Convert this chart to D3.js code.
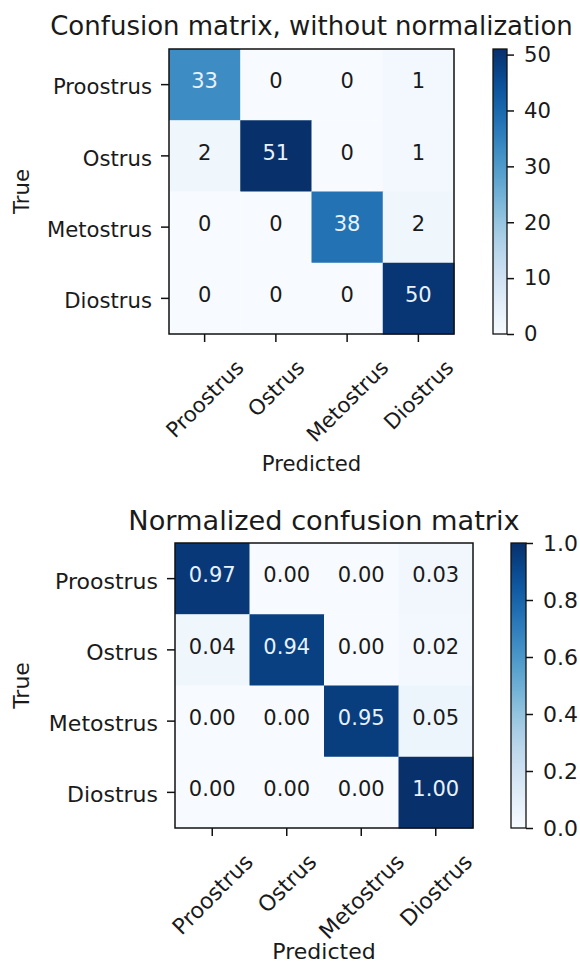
<!DOCTYPE html>
<html>
<head>
<meta charset="utf-8">
<script src="https://cdn.jsdelivr.net/npm/d3@7"></script>
<style>
  body { margin: 0; background: #fff; }
  svg { display: block; font-family: "DejaVu Sans", sans-serif; }
</style>
</head>
<body>
<svg width="580" height="965"></svg>
<script>
const classes = ["Proostrus", "Ostrus", "Metostrus", "Diostrus"];

// rows = true class, columns = predicted class
const countRows = [
  [33, 0, 0, 1],
  [2, 51, 0, 1],
  [0, 0, 38, 2],
  [0, 0, 0, 50]
];
const normRows = [
  [0.97, 0.0, 0.0, 0.03],
  [0.04, 0.94, 0.0, 0.02],
  [0.0, 0.0, 0.95, 0.05],
  [0.0, 0.0, 0.0, 1.0]
];
const countTicks = [0, 10, 20, 30, 40, 50];
const normTicks = [0, 0.2, 0.4, 0.6, 0.8, 1.0];

const svg = d3.select("svg");

const panels = [
  {
    title: "Confusion matrix, without normalization",
    rows: countRows, ticks: countTicks,
    fmt: d3.format("d"), tickFmt: d3.format("d"),
    box: { x0: 169, x1: 454, y0: 49, y1: 334 },
    bar: { x0: 493, x1: 507 },
    titleY: 35, titleSize: 26, tickSize: 21.2, valueSize: 21,
    xlabelY: 471
  },
  {
    title: "Normalized confusion matrix",
    rows: normRows, ticks: normTicks,
    fmt: d3.format(".2f"), tickFmt: d3.format(".1f"),
    box: { x0: 175, x1: 473, y0: 543, y1: 828 },
    bar: { x0: 511, x1: 526 },
    titleY: 530, titleSize: 27.2, tickSize: 22, valueSize: 21,
    xlabelY: 959
  }
];

panels.forEach((p, pi) => {
  const g = svg.append("g");
  const b = p.box;
  const vmax = d3.max(p.rows.flat());

  const x = d3.scaleBand().domain(d3.range(classes.length)).range([b.x0, b.x1]);
  const y = d3.scaleBand().domain(d3.range(classes.length)).range([b.y0, b.y1]);
  const color = d3.scaleSequential(d3.interpolateBlues).domain([0, vmax]);

  const cells = p.rows.flatMap((row, i) => row.map((v, j) => ({ i, j, v })));

  g.selectAll("rect.cell")
    .data(cells)
    .enter()
    .append("rect")
    .attr("class", "cell")
    .attr("x", (d) => x(d.j))
    .attr("y", (d) => y(d.i))
    .attr("width", x.bandwidth() + 0.5)
    .attr("height", y.bandwidth() + 0.5)
    .attr("fill", (d) => color(d.v));

  g.selectAll("text.val")
    .data(cells)
    .enter()
    .append("text")
    .attr("class", "val")
    .attr("x", (d) => x(d.j) + x.bandwidth() / 2)
    .attr("y", (d) => y(d.i) + y.bandwidth() / 2 + 0.365 * p.valueSize - 4)
    .attr("text-anchor", "middle")
    .attr("font-size", p.valueSize)
    .attr("fill", (d) => (d.v > vmax / 2 ? "#e8f2fb" : "#1a1a1a"))
    .text((d) => p.fmt(d.v));

  // axes frame
  g.append("rect")
    .attr("x", b.x0).attr("y", b.y0)
    .attr("width", b.x1 - b.x0).attr("height", b.y1 - b.y0)
    .attr("fill", "none").attr("stroke", "#111").attr("stroke-width", 1.5);

  // y ticks
  const yt = g.selectAll("g.yt").data(classes).enter().append("g");
  yt.append("line")
    .attr("x1", b.x0 - 8).attr("x2", b.x0)
    .attr("y1", (d, i) => y(i) + y.bandwidth() / 2)
    .attr("y2", (d, i) => y(i) + y.bandwidth() / 2)
    .attr("stroke", "#111").attr("stroke-width", 1.5);
  yt.append("text")
    .attr("x", b.x0 - 17)
    .attr("y", (d, i) => y(i) + y.bandwidth() / 2 + 0.365 * p.tickSize + 2)
    .attr("text-anchor", "end")
    .attr("font-size", p.tickSize)
    .attr("fill", "#1a1a1a")
    .text((d) => d);

  // x ticks, rotated 45 deg with bbox centred on the tick
  const xt = g.selectAll("g.xt").data(classes).enter().append("g");
  xt.append("line")
    .attr("x1", (d, i) => x(i) + x.bandwidth() / 2)
    .attr("x2", (d, i) => x(i) + x.bandwidth() / 2)
    .attr("y1", b.y1).attr("y2", b.y1 + 8)
    .attr("stroke", "#111").attr("stroke-width", 1.5);
  xt.append("text")
    .attr("text-anchor", "middle")
    .attr("font-size", p.tickSize)
    .attr("fill", "#1a1a1a")
    .text((d) => d)
    .each(function (d, i) {
      const w = this.getComputedTextLength();
      const hv = 0.73 * p.tickSize;
      const cx = x(i) + x.bandwidth() / 2;
      const cy = b.y1 + 24 + (w + hv) / (2 * Math.SQRT2);
      d3.select(this)
        .attr("x", cx)
        .attr("y", cy + 0.365 * p.tickSize)
        .attr("transform", `rotate(-45,${cx},${cy})`);
    });

  // axis labels and title
  const cxBox = (b.x0 + b.x1) / 2;
  const cyBox = (b.y0 + b.y1) / 2;
  g.append("text")
    .attr("x", cxBox).attr("y", p.xlabelY)
    .attr("text-anchor", "middle")
    .attr("font-size", p.tickSize)
    .attr("fill", "#1a1a1a")
    .text("Predicted");
  g.append("text")
    .attr("transform", `translate(${21 + 0.365 * p.tickSize},${cyBox}) rotate(-90)`)
    .attr("text-anchor", "middle")
    .attr("font-size", p.tickSize)
    .attr("fill", "#1a1a1a")
    .text("True");
  g.append("text")
    .attr("x", cxBox).attr("y", p.titleY)
    .attr("text-anchor", "middle")
    .attr("font-size", p.titleSize)
    .attr("fill", "#1a1a1a")
    .text(p.title);

  // colorbar
  const gradId = "blues" + pi;
  const grad = svg.append("defs").append("linearGradient")
    .attr("id", gradId)
    .attr("x1", 0).attr("y1", 1).attr("x2", 0).attr("y2", 0);
  grad.selectAll("stop")
    .data(d3.range(0, 1.0001, 0.05))
    .enter()
    .append("stop")
    .attr("offset", (t) => t)
    .attr("stop-color", (t) => d3.interpolateBlues(t));

  const cb = d3.scaleLinear().domain([0, vmax]).range([b.y1, b.y0]);
  g.append("rect")
    .attr("x", p.bar.x0).attr("y", b.y0)
    .attr("width", p.bar.x1 - p.bar.x0).attr("height", b.y1 - b.y0)
    .attr("fill", `url(#${gradId})`)
    .attr("stroke", "#111").attr("stroke-width", 1.3);

  const axis = d3.axisRight(cb)
    .tickValues(p.ticks)
    .tickFormat(p.tickFmt)
    .tickSize(7)
    .tickPadding(10);
  const ag = g.append("g")
    .attr("transform", `translate(${p.bar.x1},0)`)
    .call(axis);
  ag.select(".domain").remove();
  ag.selectAll("line").attr("stroke", "#111").attr("stroke-width", 1.5);
  ag.selectAll("text")
    .attr("font-size", p.tickSize)
    .attr("font-family", "DejaVu Sans")
    .attr("fill", "#1a1a1a");
});
</script>
</body>
</html>
